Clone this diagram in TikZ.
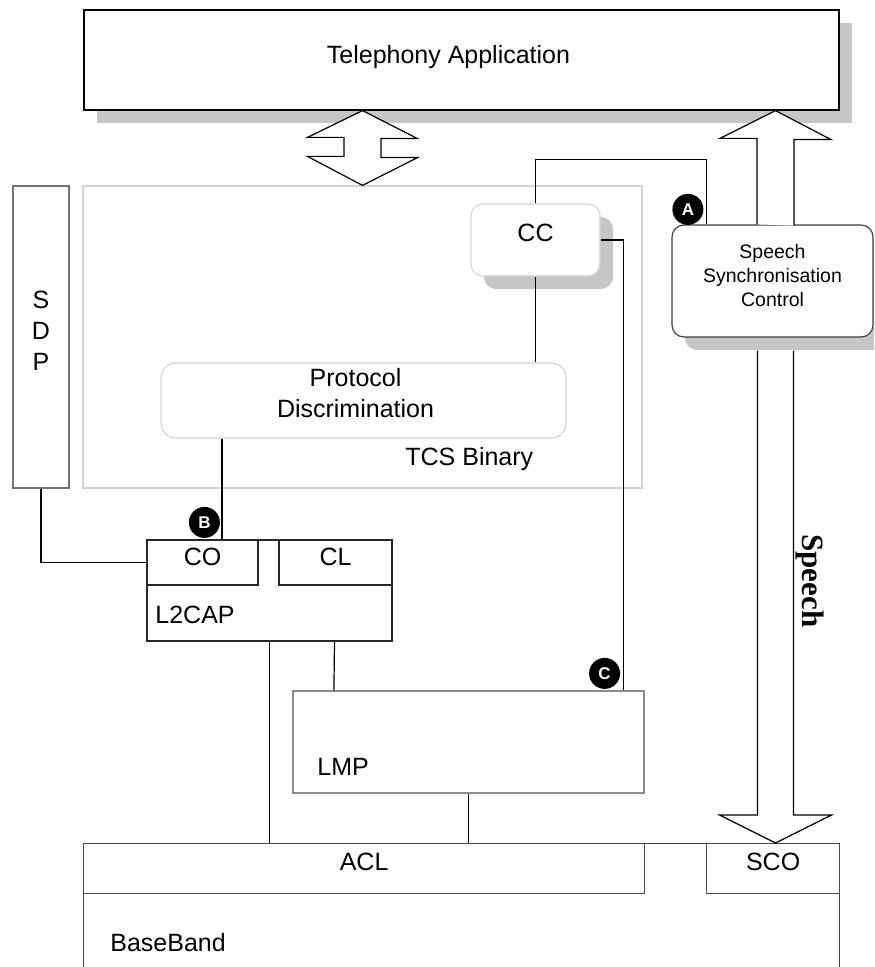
\documentclass[tikz,border=0pt]{standalone}
\usepackage{fontspec}
\setmainfont{Liberation Sans}
\newfontfamily\hablafont{Liberation Serif}
\usetikzlibrary{positioning,calc,shadows}
\definecolor{grisclaro}{HTML}{D4D4D4}
\definecolor{sombra}{HTML}{C6C6C6}
\tikzset{
  capa/.style={rectangle, draw=black!85, fill=white, line width=0.6pt, inner sep=0pt},
  tenue/.style={rectangle, draw=grisclaro, line width=0.6pt, inner sep=0pt},
  redondo/.style={tenue, rounded corners=6pt, fill=white},
  sombreado/.style={drop shadow={shadow xshift=6.5pt, shadow yshift=-6.5pt, fill=sombra, opacity=1}},
  enlace/.style={line width=0.6pt},
  hueca/.style={draw, line width=0.6pt, fill=white},
  badge/.style={circle, fill=black, text=white, minimum size=15.5pt, inner sep=0pt,
    font=\bfseries\fontsize{8.5}{9}\selectfont},
  rotulo/.style={inner sep=0pt},
}

\begin{document}
\begin{tikzpicture}[x=0.5pt, y=-0.5pt, font=\fontsize{12.5}{15.5}\selectfont]
    \useasboundingbox (0,0) rectangle (874,967);
    \clip (0,0) rectangle (874,967);
    % TCS Binary
    \node[tenue, minimum width=279.5pt, minimum height=151pt] (tcs) at (362.5,337) {};
    \node[rotulo, anchor=base west] (tcslbl) at (405,465) {TCS Binary};
    % Aplicacion
    \node[capa, draw=black, sombreado, minimum width=377.5pt, minimum height=50pt,
      label={[rotulo, xshift=-6.5pt, yshift=1.25pt]center:Telephony Application}] (tel) at (461.5,60) {};
    \draw[hueca] (tel.south -| tcs.north) -- ++(55,28) -- ++(-36.5,0) -- ++(0,19) -- ++(36.5,0)
      -- (tcs.north) -- ++(-55,-29) -- ++(36.5,0) -- ++(0,-19) -- ++(-36.5,0) -- cycle;
    % SDP
    \node[capa, draw=black!55, minimum width=28pt, minimum height=151pt,
      label={[rotulo, align=center, yshift=3pt]center:S\\D\\P}] (sdp) at (41,337) {};
    % Control de llamada
    \node[redondo, sombreado, minimum width=64.5pt, minimum height=36pt, text depth=7.5pt]
      (cc) at (535.5,240) {CC};
    \node[redondo, rounded corners=7.5pt, minimum width=202.5pt, minimum height=37.5pt,
      label={[rotulo, align=center, yshift=3.5pt, xshift=-4pt]center:Protocol\\Discrimination}]
      (pd) at (363.5,400.5) {};
    % Sincronizacion de voz
    \node[redondo, draw=black!75, sombreado, minimum width=100.5pt, minimum height=56pt,
      label={[rotulo, align=center, font=\fontsize{9.75}{12}\selectfont, yshift=2.5pt]center:Speech\\Synchronisation\\Control}]
      (ssc) at (772.5,281) {};
    \coordinate (voz) at ($(ssc.north)+(3,0)$);
    % L2CAP
    \node[capa, minimum width=122.5pt, minimum height=50.5pt] (l2cap) at (269.5,590.5) {};
    \node[capa, anchor=north west, minimum width=55.5pt, minimum height=22.5pt, text depth=5.9pt]
      (co) at (l2cap.north west) {CO};
    \node[capa, anchor=north east, minimum width=56.5pt, minimum height=22.5pt, text depth=5.9pt]
      (cl) at (l2cap.north east) {CL};
    \node[rotulo, anchor=base west] (l2lbl) at (155,623) {L2CAP};
    % LMP
    \node[capa, draw=black!45, minimum width=175.5pt, minimum height=51pt] (lmp) at (468.5,742) {};
    \node[rotulo, anchor=base west] (lmplbl) at (317,775) {LMP};
    % BaseBand
    \node[capa, draw=black!75, anchor=north west, minimum width=378pt, minimum height=80pt] (bb) at (83,843) {};
    \node[capa, draw=black!70, anchor=north west, minimum width=280.5pt, minimum height=25pt, text depth=7pt]
      (acl) at (bb.north west) {ACL};
    \node[capa, draw=black!70, anchor=north east, minimum width=66.5pt, minimum height=25pt, text depth=7pt]
      (sco) at (bb.north east) {SCO};
    \node[rotulo, anchor=base west] (bblbl) at (110,951.7) {BaseBand};

    % flechas de voz
    \draw[hueca] (voz |- ssc.north) ++(-18.5,0) -- ++(0,-86) -- ++(-37,0) -- (voz |- tel.south)
      -- ++(55.5,29) -- ++(-37,0) -- ++(0,86);
    \draw[hueca] ($(voz |- ssc.south)+(-18,13)$) -- ($(voz |- sco.north)+(-18,-28)$) -- ++(-38,0)
      -- (voz |- sco.north) -- ++(56,-28) -- ++(-38,0) -- ($(voz |- ssc.south)+(18,13)$);
    \node[font=\hablafont\bfseries\fontsize{15.5}{16}\selectfont, rotate=-90] (habla) at (810,581) {Speech};

    % enlaces
    \draw[enlace] (cc.north) -- ++(0,-44) -| ($(ssc.north west)+(35,0)$);
    \draw[enlace] (cc.east) -| ($(lmp.north east)+(-21,0)$);
    \draw[enlace] (cc.south) -- (cc.south |- pd.north);
    \draw[enlace] ($(pd.south west)+(61.5,0)$) -- ($(co.north west)+(75.5,0)$);
    \draw[enlace] (sdp.south) |- (co.west);
    \draw[enlace] (l2cap.south) -- (l2cap.south |- acl.north);
    \draw[enlace] ($(l2cap.south)+(65,0)$) -- ($(lmp.north west)+(41.5,0)$);
    \draw[enlace] (lmp.south) -- (lmp.south |- acl.north);

    \node[badge] (ba) at ($(ssc.north west)+(16.5,-15)$) {A};
    \node[badge] (bb2) at ($(co.north west)+(58,-17)$) {B};
    \node[badge] (bc) at ($(lmp.north east)+(-40,-17)$) {C};
  \end{tikzpicture}
\end{document}
